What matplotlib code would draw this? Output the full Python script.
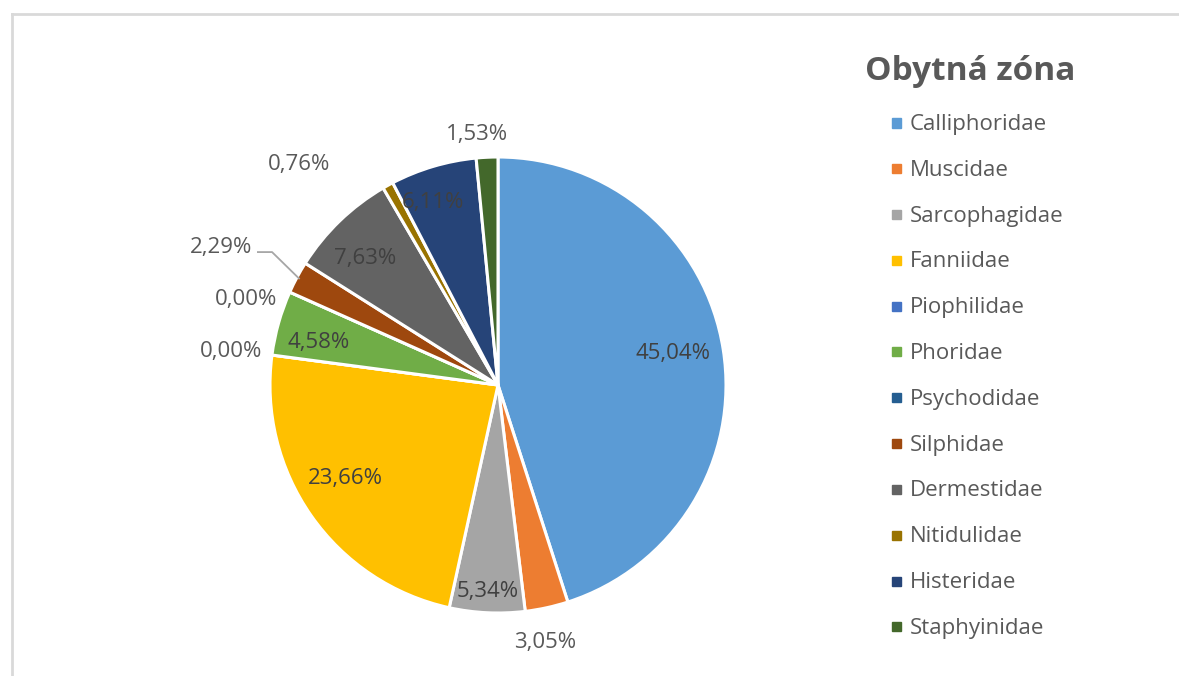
import numpy as np
import matplotlib
matplotlib.use("Agg")
import matplotlib.pyplot as plt
from matplotlib.lines import Line2D
from matplotlib.patches import Rectangle
from matplotlib.transforms import offset_copy

plt.rcParams['font.family'] = ['Open Sans', 'DejaVu Sans']

title = "Obytná zóna"
families = ["Calliphoridae", "Muscidae", "Sarcophagidae", "Fanniidae", "Piophilidae",
            "Phoridae", "Psychodidae", "Silphidae", "Dermestidae", "Nitidulidae",
            "Histeridae", "Staphyinidae"]
shares = [45.04, 3.05, 5.34, 23.66, 0.00, 4.58, 0.00, 2.29, 7.63, 0.76, 6.11, 1.53]
colors = ["#5B9BD5", "#ED7D31", "#A5A5A5", "#FFC000", "#4472C4", "#70AD47",
          "#255E91", "#9E480E", "#636363", "#997300", "#264478", "#43682B"]

# label placement per slice: (radius factor, angle nudge in degrees, inside?)
label_place = [
    (0.78, 2, True), (1.14, -2, False), (0.90, 0, True), (0.78, -4, True),
    (1.18, 0, False), (0.81, 2, True), (1.17, 5, False), (1.36, 1.5, False),
    (0.81, 2, True), (1.31, 13, False), (0.86, 3, True), (1.11, 2, False),
]

W, H = 1179, 676
fig = plt.figure(figsize=(W / 100, H / 100), dpi=100)

# chart-area frame (top and left edges visible)
fig.add_artist(Line2D([12 / W, 1.01], [1 - 14 / H, 1 - 14 / H], color="#d9d9d9", lw=2,
                      transform=fig.transFigure))
fig.add_artist(Line2D([12 / W, 12 / W], [1 - 14 / H, -0.01], color="#d9d9d9", lw=2,
                      transform=fig.transFigure))

cx, cy, R = 498, 385, 228
ax = fig.add_axes([(cx - R) / W, (H - cy - R) / H, 2 * R / W, 2 * R / H])
wedges, _ = ax.pie(shares, colors=colors, startangle=90, counterclock=False,
                   wedgeprops=dict(edgecolor="white", linewidth=2.2))
ax.set_xlim(-1, 1)
ax.set_ylim(-1, 1)
ax.set_aspect("equal")
ax.axis("off")

# nudge text slightly down so glyphs sit optically centred
txt_tr = offset_copy(ax.transData, fig=fig, x=0, y=-2, units="dots")
for w, val, (rf, nudge, inside) in zip(wedges, shares, label_place):
    mid = np.deg2rad((w.theta1 + w.theta2) / 2 + nudge)
    x, y = rf * np.cos(mid), rf * np.sin(mid)
    txt = f"{val:.2f}%".replace(".", ",")
    ax.text(x, y, txt, ha="center", va="center", fontsize=16, transform=txt_tr,
            color="#404040" if inside else "#595959", clip_on=False)

# leader line for the Silphidae label
silph = wedges[7]
ang = np.deg2rad((silph.theta1 + silph.theta2) / 2)
ex, ey = 0.99 * np.cos(ang), 0.99 * np.sin(ang)
ax.plot([-1.053, -0.991, ex], [0.583, 0.583, ey], color="#a6a6a6",
        lw=1.3, clip_on=False)

# legend
fig.text(970 / W, 1 - 71 / H, title, ha="center", va="center", fontsize=24,
         fontweight="bold", color="#595959")
y0, dy = 123, 45.8
for i, (name, c) in enumerate(zip(families, colors)):
    yy = y0 + i * dy
    fig.add_artist(Rectangle((892 / W, 1 - (yy + 4.5) / H), 9 / W, 9 / H, color=c,
                             transform=fig.transFigure))
    fig.text(910 / W, 1 - (yy + 1.5) / H, name, ha="left", va="center", fontsize=16,
             color="#595959")

fig.savefig("out.png", dpi=100, facecolor="white")
